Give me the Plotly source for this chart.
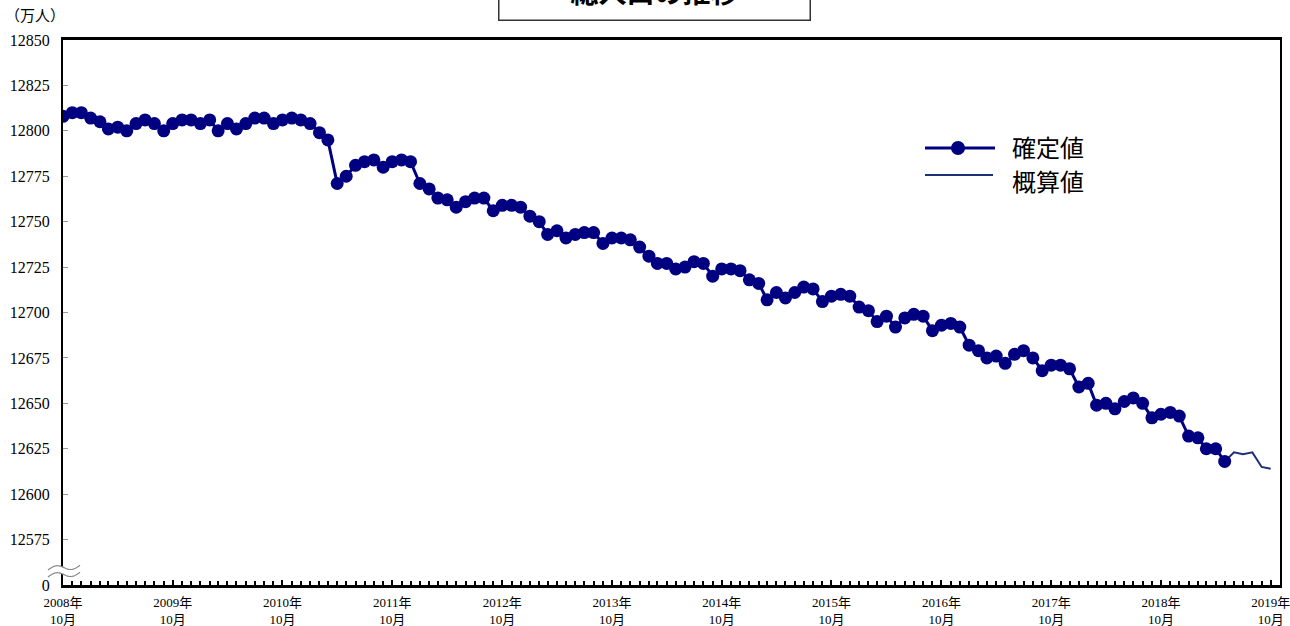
import math
import pandas as pd
import plotly.graph_objects as go

# ---- data (万人) ----
confirmed_start = "2008-10-01"
confirmed = [
    12808, 12810, 12810, 12807, 12805, 12801, 12802, 12800, 12804, 12806,
    12804, 12800, 12804, 12806, 12806, 12804, 12806, 12800, 12804, 12801,
    12804, 12807, 12807, 12804, 12806, 12807, 12806, 12804, 12799, 12795,
    12771, 12775, 12781, 12783, 12784, 12780, 12783, 12784, 12783, 12771,
    12768, 12763, 12762, 12758, 12761, 12763, 12763, 12756, 12759, 12759,
    12758, 12753, 12750, 12743, 12745, 12741, 12743, 12744, 12744, 12738,
    12741, 12741, 12740, 12736, 12731, 12727, 12727, 12724, 12725, 12728,
    12727, 12720, 12724, 12724, 12723, 12718, 12716, 12707, 12711, 12708,
    12711, 12714, 12713, 12706, 12709, 12710, 12709, 12703, 12701, 12695,
    12698, 12692, 12697, 12699, 12698, 12690, 12693, 12694, 12692, 12682,
    12679, 12675, 12676, 12672, 12677, 12679, 12675, 12668, 12671, 12671,
    12669, 12659, 12661, 12649, 12650, 12647, 12651, 12653, 12650, 12642,
    12644, 12645, 12643, 12632, 12631, 12625, 12625, 12618,
]
estimate_start = "2019-05-01"
estimate = [12618, 12623, 12622, 12623, 12615, 12614]

tick_dates = [f"{y}-10-01" for y in range(2008, 2020)]
tick_labels = [f"{y}年<br>10月" for y in range(2008, 2020)]
y_ticks = [12550, 12575, 12600, 12625, 12650, 12675, 12700, 12725, 12750, 12775, 12800, 12825, 12850]
y_labels = ["0"] + [str(v) for v in y_ticks[1:]]

x_conf = pd.date_range(confirmed_start, periods=len(confirmed), freq="MS")
x_est = pd.date_range(estimate_start, periods=len(estimate), freq="MS")

NAVY = "#000080"
EST = "#1c2f78"
SERIF = "Liberation Serif, DejaVu Serif, Noto Sans CJK JP, serif"
SANS = "Noto Sans CJK JP, sans-serif"

fig = go.Figure()
fig.add_trace(go.Scatter(x=x_est, y=estimate, mode="lines", name="概算値",
                         line=dict(color=EST, width=2), showlegend=False))
fig.add_trace(go.Scatter(x=x_conf, y=confirmed, mode="lines+markers", name="確定値",
                         line=dict(color=NAVY, width=3),
                         marker=dict(color=NAVY, size=13), showlegend=False))

L, R, T, B = 63, 10, 40, 41
W, H = 1290, 626
PW, PH = W - L - R, H - T - B

def px(x):
    return (x - L) / PW

def py(y):
    return (H - B - y) / PH

shapes = []
# axis break marks
def wave(y0):
    pts = []
    for i in range(0, 33):
        xx = 48 + i
        yy = y0 - i * 0.15 - 3 * math.sin(i / 32 * 2 * math.pi)
        pts.append((xx, yy))
    return pts
w1 = wave(570)
w2 = wave(577)
band = w1 + list(reversed(w2))
shapes.append(dict(type="path", xref="paper", yref="paper", layer="above",
                   path="M " + " L ".join(f"{px(a):.5f},{py(b):.5f}" for a, b in band) + " Z",
                   fillcolor="white", line=dict(width=0)))
for w in (w1, w2):
    shapes.append(dict(type="path", xref="paper", yref="paper", layer="above",
                       path="M " + " L ".join(f"{px(a):.5f},{py(b):.5f}" for a, b in w),
                       line=dict(color="#888888", width=1.2)))

# manual legend
shapes.append(dict(type="line", xref="paper", yref="paper", x0=px(925), x1=px(995),
                   y0=py(148), y1=py(148), line=dict(color=NAVY, width=3)))
shapes.append(dict(type="circle", xref="paper", yref="paper", x0=px(951), x1=px(965),
                   y0=py(141), y1=py(155), fillcolor=NAVY, line=dict(color=NAVY, width=0)))
shapes.append(dict(type="line", xref="paper", yref="paper", x0=px(925), x1=px(993),
                   y0=py(175), y1=py(175), line=dict(color=EST, width=2)))

annotations = [
    dict(text="確定値", x=px(1010), y=py(146), xref="paper", yref="paper",
         xanchor="left", yanchor="middle", showarrow=False,
         font=dict(family=SANS, size=24, color="black")),
    dict(text="概算値", x=px(1010), y=py(180), xref="paper", yref="paper",
         xanchor="left", yanchor="middle", showarrow=False,
         font=dict(family=SANS, size=24, color="black")),
    dict(text="（万人）", x=px(3), y=py(16), xref="paper", yref="paper",
         xanchor="left", yanchor="middle", showarrow=False,
         font=dict(family=SERIF, size=15, color="black")),
    dict(text="<b>総人口の推移</b>", x=px(654), y=py(21), xref="paper", yref="paper",
         xanchor="center", yanchor="bottom", showarrow=False,
         width=308, height=56, bordercolor="#333333", borderwidth=1.5, borderpad=1,
         bgcolor="white", font=dict(family=SANS, size=28, color="black")),
]

fig.update_layout(
    width=W, height=H,
    margin=dict(l=L, r=R, t=T, b=B, autoexpand=False),
    paper_bgcolor="white", plot_bgcolor="white",
    showlegend=False,
    shapes=shapes, annotations=annotations,
    xaxis=dict(type="date", range=["2008-10-01", "2019-11-01"],
               tickvals=tick_dates, ticktext=tick_labels,
               ticks="inside", ticklen=5, tickwidth=2, tickcolor="black",
               minor=dict(ticks="inside", dtick="M1", tick0="2008-10-01",
                          ticklen=4, tickwidth=2, tickcolor="black"),
               showline=True, linecolor="black", linewidth=2.5, mirror=True,
               showgrid=False, zeroline=False, automargin=False,
               ticklabeloverflow="allow", ticklabelstandoff=4,
               tickfont=dict(family=SERIF, size=13, color="black")),
    yaxis=dict(range=[12550, 12850], tickvals=y_ticks, ticktext=y_labels,
               ticks="inside", ticklen=5, tickwidth=1, tickcolor="#999999",
               showline=True, linecolor="black", linewidth=2, mirror=True,
               showgrid=False, zeroline=False, automargin=False,
               ticklabelstandoff=8,
               tickfont=dict(family=SERIF, size=16, color="black")),
)

fig.write_html("out.html", config={"displayModeBar": False},
               post_script="document.body.style.margin='0';document.body.style.overflow='hidden';")
